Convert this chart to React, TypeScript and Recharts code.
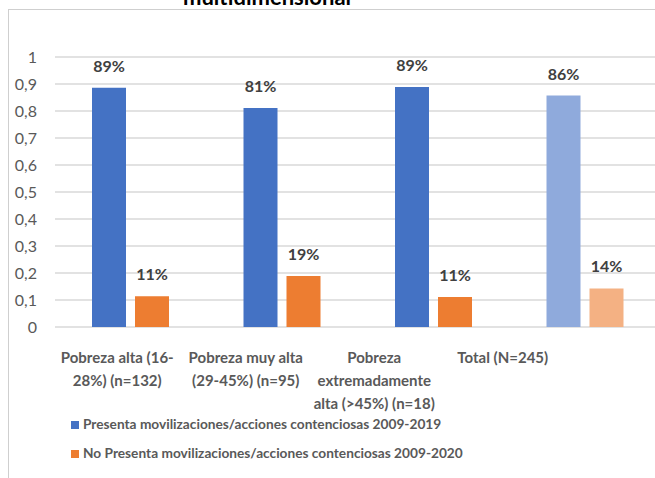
import { Bar, BarChart, CartesianGrid, Cell, LabelList, Legend, XAxis, YAxis } from 'recharts'

const categories = [
  'Pobreza alta (16-\n28%) (n=132)',
  'Pobreza muy alta\n(29-45%) (n=95)',
  'Pobreza\nextremadamente\nalta (>45%) (n=18)',
  'Total (N=245)'
]
const presenta = [0.886, 0.811, 0.889, 0.857]
const noPresenta = [0.114, 0.189, 0.111, 0.143]
const yTicks = [0, 0.1, 0.2, 0.3, 0.4, 0.5, 0.6, 0.7, 0.8, 0.9, 1]
const seriesNames = [
  'Presenta movilizaciones/acciones contenciosas 2009-2019',
  'No Presenta movilizaciones/acciones contenciosas 2009-2020'
]
const title = 'multidimensional'

const BLUE = '#4472c4'
const ORANGE = '#ed7d31'
const LIGHT_BLUE = '#8faadc'
const LIGHT_ORANGE = '#f4b183'
const FONT = 'Lato, "Noto Sans", sans-serif'

const data = categories.map((name, i) => ({ name, presenta: presenta[i], noPresenta: noPresenta[i] }))

const formatTick = (value: number) => String(Number(value.toFixed(1))).replace('.', ',')
const formatPercent = (value: unknown) => `${Math.round(Number(value) * 100)}%`

function CategoryTick({ x, y, payload }: any) {
  const lines = String(payload.value).split('\n')
  const cx = x - 2
  return (
    <text x={cx} y={y + 6} textAnchor="middle" fill="#595959" fontSize={15} fontWeight={700} fontFamily={FONT}>
      {lines.map((line, i) => (
        <tspan key={i} x={cx} dy={i === 0 ? 0 : 23}>
          {line}
        </tspan>
      ))}
    </text>
  )
}

export default function App() {
  const last = categories.length - 1
  return (
    <div
      style={{
        position: 'absolute',
        left: 0,
        top: 0,
        width: 655,
        height: 478,
        overflow: 'hidden',
        background: '#fff',
        fontFamily: FONT
      }}
    >
      <div
        style={{
          position: 'absolute',
          left: 8,
          top: 9,
          width: 700,
          height: 500,
          borderLeft: '1px solid #cfcfcf',
          borderTop: '1px solid #cfcfcf'
        }}
      />
      <div
        style={{
          position: 'absolute',
          left: 0,
          top: -14,
          width: 534,
          textAlign: 'center',
          fontSize: 22,
          lineHeight: '22px',
          fontWeight: 700,
          color: '#000'
        }}
      >
        {title}
      </div>
      <div style={{ position: 'absolute', left: 0, top: 0 }}>
        <BarChart
          width={680}
          height={478}
          data={data}
          margin={{ top: 57, right: 19, left: 0, bottom: 71 }}
          barSize={34}
          barGap={9}
          style={{ fontFamily: FONT }}
        >
          <CartesianGrid xAxisId="bars" vertical={false} stroke="#d9d9d9" strokeWidth={1.3} />
          <XAxis xAxisId="bars" dataKey="name" hide />
          <XAxis
            xAxisId="labels"
            dataKey="name"
            interval={0}
            axisLine={false}
            tickLine={false}
            tickSize={0}
            tickMargin={0}
            height={80}
            padding={{ left: 0, right: 92 }}
            tick={<CategoryTick />}
          />
          <YAxis
            domain={[0, 1]}
            ticks={yTicks}
            width={55}
            axisLine={false}
            tickLine={false}
            tickSize={0}
            tickMargin={18}
            tickFormatter={formatTick}
            tick={{ fill: '#595959', fontSize: 16, fontFamily: FONT }}
          />
          <Legend
            layout="vertical"
            align="center"
            verticalAlign="middle"
            iconType="square"
            iconSize={8}
            itemSorter={(item: any) => seriesNames.indexOf(String(item.value))}
            wrapperStyle={{ left: 71, top: 409, width: 'auto', lineHeight: '28px' }}
            formatter={(value) => (
              <span style={{ color: '#595959', fontWeight: 700, fontSize: 13.7, fontFamily: FONT }}>{value}</span>
            )}
          />
          <Bar xAxisId="bars" dataKey="presenta" name={seriesNames[0]} fill={BLUE} isAnimationActive={false}>
            {data.map((entry, i) => (
              <Cell key={entry.name} fill={i === last ? LIGHT_BLUE : BLUE} />
            ))}
            <LabelList
              dataKey="presenta"
              position="top"
              offset={16}
              formatter={formatPercent}
              fill="#404040"
              fontSize={16}
              fontWeight={700}
              fontFamily={FONT}
            />
          </Bar>
          <Bar xAxisId="bars" dataKey="noPresenta" name={seriesNames[1]} fill={ORANGE} isAnimationActive={false}>
            {data.map((entry, i) => (
              <Cell key={entry.name} fill={i === last ? LIGHT_ORANGE : ORANGE} />
            ))}
            <LabelList
              dataKey="noPresenta"
              position="top"
              offset={16}
              formatter={formatPercent}
              fill="#404040"
              fontSize={16}
              fontWeight={700}
              fontFamily={FONT}
            />
          </Bar>
        </BarChart>
      </div>
    </div>
  )
}
